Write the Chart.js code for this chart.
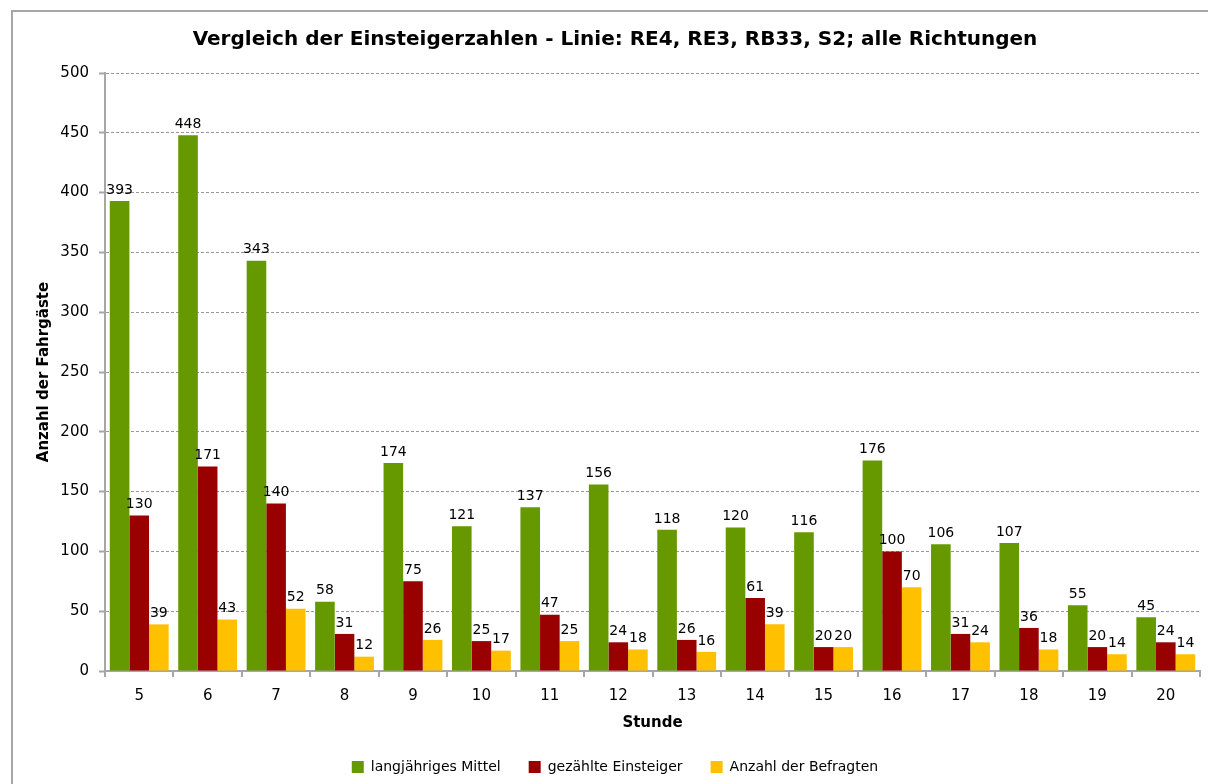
<!DOCTYPE html>
<html>
<head>
<meta charset="utf-8">
<script src="https://cdn.jsdelivr.net/npm/chart.js@4"></script>
<style>
  html, body { margin: 0; padding: 0; background: #fff; overflow: hidden; }
  #wrap { position: relative; width: 1208px; height: 784px; }
  #frame { position: absolute; left: 11px; top: 10px; width: 1300px; height: 900px;
           border: 2px solid #a6a6a6; pointer-events: none; }
</style>
</head>
<body>
<div id="wrap">
  <canvas id="chart" width="1208" height="784"></canvas>
  <div id="frame"></div>
</div>
<script>
// Stunden (x-axis categories)
const hours = ['5', '6', '7', '8', '9', '10', '11', '12', '13', '14', '15', '16', '17', '18', '19', '20'];

// Series values
const longTermAvg = [393, 448, 343, 58, 174, 121, 137, 156, 118, 120, 116, 176, 106, 107, 55, 45];
const countedBoarding = [130, 171, 140, 31, 75, 25, 47, 24, 26, 61, 20, 100, 31, 36, 20, 24];
const respondents = [39, 43, 52, 12, 26, 17, 25, 18, 16, 39, 20, 70, 24, 18, 14, 14];

const FONT = 'Tahoma, "DejaVu Sans", sans-serif';

// draws value labels above each bar
const valueLabels = {
    id: 'valueLabels',
    afterDatasetsDraw(chart) {
        const ctx = chart.ctx;
        ctx.save();
        ctx.font = '14px ' + FONT;
        ctx.fillStyle = '#000';
        ctx.textAlign = 'center';
        ctx.textBaseline = 'bottom';
        chart.data.datasets.forEach((ds, i) => {
            const meta = chart.getDatasetMeta(i);
            meta.data.forEach((bar, j) => {
                ctx.fillText(String(ds.data[j]), bar.x, bar.y - 4);
            });
        });
        ctx.restore();
    }
};

const ctx = document.getElementById('chart').getContext('2d');
new Chart(ctx, {
    type: 'bar',
    data: {
        labels: hours,
        datasets: [
            { label: 'langjähriges Mittel', data: longTermAvg, backgroundColor: '#669900' },
            { label: 'gezählte Einsteiger', data: countedBoarding, backgroundColor: '#990000' },
            { label: 'Anzahl der Befragten', data: respondents, backgroundColor: '#ffc000' }
        ]
    },
    options: {
        responsive: false,
        animation: false,
        devicePixelRatio: 1,
        layout: { padding: { left: 30, right: 8, top: 28, bottom: 0 } },
        datasets: { bar: { categoryPercentage: 0.86, barPercentage: 1.0 } },
        scales: {
            x: {
                grid: { offset: true, drawOnChartArea: false, color: '#a6a6a6', tickLength: 6, lineWidth: 2 },
                border: { color: '#a6a6a6', width: 2 },
                ticks: { color: '#000', font: { family: FONT, size: 15 }, padding: 10 },
                title: { display: true, text: 'Stunde', color: '#000', font: { family: FONT, size: 15, weight: 'bold' }, padding: { top: 0, bottom: 0 } },
                afterFit(scale) { scale.height -= 1; }
            },
            y: {
                min: 0, max: 500,
                ticks: { stepSize: 50, color: '#000', font: { family: FONT, size: 15 }, padding: 10 },
                grid: { color: '#999999', tickColor: '#a6a6a6', tickLength: 6, lineWidth: 1, tickWidth: 2 },
                border: { color: '#a6a6a6', width: 2, dash: [3, 2] },
                title: { display: true, text: 'Anzahl der Fahrgäste', color: '#000', font: { family: FONT, size: 15, weight: 'bold' }, padding: { top: 5, bottom: 8 } },
                afterFit(scale) { scale.width = 75; }
            }
        },
        plugins: {
            title: {
                display: true,
                text: 'Vergleich der Einsteigerzahlen - Linie: RE4, RE3, RB33, S2; alle Richtungen',
                color: '#000',
                font: { family: FONT, size: 20, weight: 'bold' },
                padding: { top: 0, bottom: 21 }
            },
            legend: {
                position: 'bottom',
                labels: {
                    color: '#000',
                    font: { family: FONT, size: 14 },
                    boxWidth: 12, boxHeight: 12,
                    padding: 28
                }
            },
            tooltip: { enabled: false }
        }
    },
    plugins: [valueLabels]
});
</script>
</body>
</html>
